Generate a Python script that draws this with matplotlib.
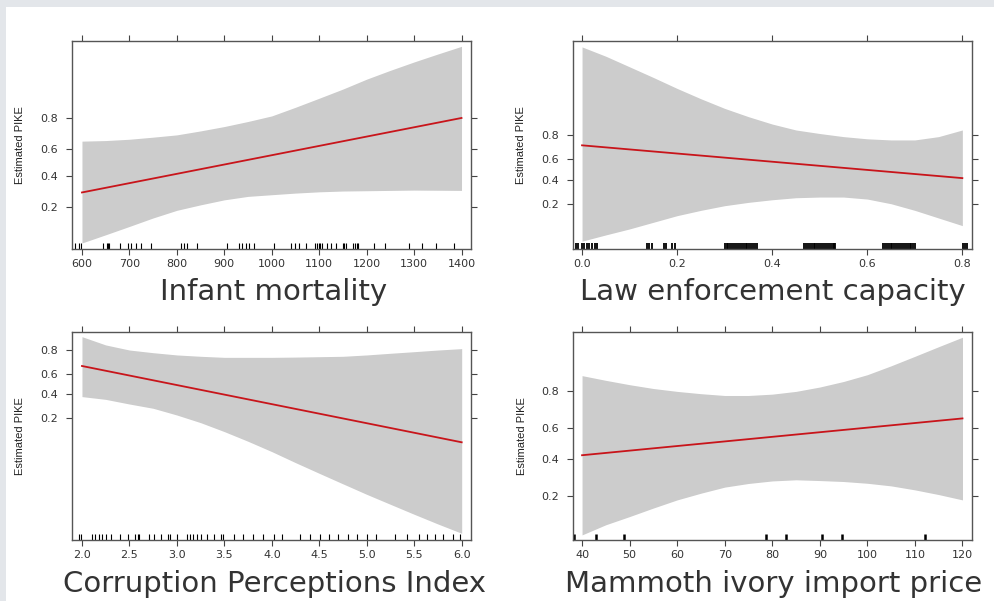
import numpy as np
import matplotlib
matplotlib.use("Agg")
import matplotlib.pyplot as plt
from matplotlib.patches import Rectangle
from matplotlib.ticker import FixedLocator, NullLocator

# ---- data (effect plots, logit y scale) ----
# Infant mortality
im_x = [600, 650, 700, 750, 800, 850, 900, 950, 1000, 1050, 1100, 1150,
        1200, 1250, 1300, 1350, 1400]
im_upper = [0.659, 0.663, 0.672, 0.686, 0.701, 0.726, 0.752, 0.780, 0.808, 0.846,
            0.879, 0.906, 0.929, 0.945, 0.957, 0.966, 0.973]
im_lower = [0.077, 0.097, 0.122, 0.153, 0.186, 0.213, 0.240, 0.260, 0.270, 0.280,
            0.288, 0.293, 0.295, 0.297, 0.299, 0.298, 0.297]
im_fit = [0.284, 0.798]
im_rug = [585.3, 593.0, 597.9, 643.4, 651.8, 654.6, 657.4, 680.6, 697.4, 703.7,
          714.2, 724.7, 745.0, 809.5, 815.1, 822.1, 843.1, 906.1, 932.0, 937.7,
          944.7, 952.4, 963.6, 1004.2, 1041.3, 1049.7, 1057.4, 1072.9, 1091.8,
          1095.3, 1099.5, 1102.3, 1106.5, 1116.3, 1124.7, 1134.5, 1149.9, 1152.7,
          1156.9, 1170.9, 1175.1, 1179.3, 1182.8, 1216.5, 1238.9, 1289.3, 1315.9,
          1346.1, 1384.6]

# Law enforcement capacity
le_x = [0.0, 0.05, 0.1, 0.15, 0.2, 0.25, 0.3, 0.35, 0.4, 0.45, 0.5, 0.55,
        0.6, 0.65, 0.7, 0.75, 0.8]
le_upper = [0.9929, 0.9897, 0.9843, 0.9761, 0.9633, 0.9454, 0.9215, 0.8937, 0.862,
            0.831, 0.810, 0.790, 0.775, 0.767, 0.767, 0.790, 0.831]
le_lower = [0.0527, 0.0668, 0.0835, 0.1064, 0.1346, 0.1615, 0.1886, 0.210, 0.228,
            0.2427, 0.2477, 0.2477, 0.233, 0.201, 0.1615, 0.124, 0.0943]
le_fit = [0.726, 0.414]
le_rug = [-0.013, -0.008, 0.0, 0.004, 0.010, 0.015, 0.021, 0.027, 0.032,
          0.136, 0.140, 0.148, 0.172, 0.176, 0.190, 0.196,
          0.300, 0.304, 0.308, 0.312, 0.316, 0.320, 0.324, 0.328, 0.332,
          0.336, 0.340, 0.344, 0.348, 0.352, 0.356, 0.360, 0.364, 0.367,
          0.467, 0.471, 0.475, 0.479, 0.483, 0.487, 0.491, 0.495, 0.499,
          0.503, 0.507, 0.511, 0.515, 0.519, 0.523, 0.527, 0.531, 0.533,
          0.633, 0.637, 0.641, 0.645, 0.649, 0.653, 0.657, 0.661, 0.665,
          0.669, 0.673, 0.677, 0.681, 0.685, 0.689, 0.693, 0.697, 0.700,
          0.802, 0.806, 0.810]

# Corruption Perceptions Index
cp_x = [2.0, 2.25, 2.5, 2.75, 3.0, 3.25, 3.5, 3.75, 4.0, 4.25, 4.5, 4.75,
        5.0, 5.25, 5.5, 5.75, 6.0]
cp_upper = [0.875, 0.833, 0.802, 0.784, 0.768, 0.758, 0.750, 0.750, 0.750, 0.752,
            0.755, 0.758, 0.768, 0.780, 0.791, 0.802, 0.811]
cp_lower = [0.375, 0.349, 0.307, 0.271, 0.220, 0.171, 0.125, 0.0876, 0.0592, 0.0385,
            0.0252, 0.0165, 0.0108, 0.0072, 0.0048, 0.00323, 0.00221]
cp_fit = [0.678, 0.0845]
cp_rug = [1.972, 1.989, 2.105, 2.137, 2.175, 2.214, 2.252, 2.305, 2.403, 2.487,
          2.557, 2.585, 2.599, 2.708, 2.760, 2.830, 2.907, 2.928, 2.998, 3.110,
          3.138, 3.173, 3.208, 3.250, 3.320, 3.390, 3.461, 3.489, 3.601, 3.699,
          3.804, 3.909, 4.028, 4.109, 4.301, 4.399, 4.511, 4.602, 4.694, 4.799,
          4.897, 5.002, 5.100, 5.299, 5.422, 5.545, 5.632, 5.720, 5.807, 5.905,
          5.982]

# Mammoth ivory import price
mi_x = [40, 45, 50, 55, 60, 65, 70, 75, 80, 85, 90, 95, 100, 105, 110, 115, 120]
mi_upper = [0.857, 0.841, 0.825, 0.810, 0.798, 0.788, 0.780, 0.780, 0.786, 0.798,
            0.816, 0.837, 0.860, 0.886, 0.909, 0.928, 0.943]
mi_lower = [0.0815, 0.104, 0.126, 0.153, 0.183, 0.211, 0.239, 0.257, 0.270, 0.276,
            0.272, 0.267, 0.258, 0.245, 0.226, 0.205, 0.183]
mi_fit = [0.422, 0.659]
mi_rug = [38.3, 42.9, 48.8, 78.6, 82.8, 90.5, 94.6, 112.1]

panels = [
    dict(x=im_x, up=im_upper, lo=im_lower, fit=im_fit, rug=im_rug, rug_lw=0.8,
         xlim=(579, 1420), ylim=(0.0648, 0.977),
         xticks=[600, 700, 800, 900, 1000, 1100, 1200, 1300, 1400],
         xticklabels=["600", "700", "800", "900", "1000", "1100", "1200", "1300", "1400"],
         title="Infant mortality", box=(72, 41), lab=(274, 300), ylab=(20, 145)),
    dict(x=le_x, up=le_upper, lo=le_lower, fit=le_fit, rug=le_rug, rug_lw=1.3,
         xlim=(-0.019, 0.8203), ylim=(0.039, 0.9944),
         xticks=[0.0, 0.2, 0.4, 0.6, 0.8],
         xticklabels=["0.0", "0.2", "0.4", "0.6", "0.8"],
         title="Law enforcement capacity", box=(573, 41), lab=(773, 300), ylab=(521, 145)),
    dict(x=cp_x, up=cp_upper, lo=cp_lower, fit=cp_fit, rug=cp_rug, rug_lw=0.8,
         xlim=(1.895, 6.098), ylim=(0.00168, 0.8945),
         xticks=[2.0, 2.5, 3.0, 3.5, 4.0, 4.5, 5.0, 5.5, 6.0],
         xticklabels=["2.0", "2.5", "3.0", "3.5", "4.0", "4.5", "5.0", "5.5", "6.0"],
         title="Corruption Perceptions Index", box=(72, 332), lab=(275, 592), ylab=(20, 436)),
    dict(x=mi_x, up=mi_upper, lo=mi_lower, fit=mi_fit, rug=mi_rug, rug_lw=1.8,
         xlim=(38.1, 122.0), ylim=(0.072, 0.950),
         xticks=[40, 50, 60, 70, 80, 90, 100, 110, 120],
         xticklabels=["40", "50", "60", "70", "80", "90", "100", "110", "120"],
         title="Mammoth ivory import price", box=(573, 332), lab=(774, 592), ylab=(522, 436)),
]

W, H = 995, 601
fig = plt.figure(figsize=(W / 100, H / 100), dpi=100)
fig.patch.set_facecolor("#e3e6ea")
fig.patches.append(Rectangle((6 / W, 0), 1, 1 - 7 / H, transform=fig.transFigure,
                             facecolor="white", edgecolor="none", zorder=-5))

pw, ph = 399, 208
for p in panels:
    bx, by = p["box"]
    ax = fig.add_axes([bx / W, 1 - (by + ph) / H, pw / W, ph / H])
    ax.set_zorder(2)
    ax.set_yscale("logit")
    ax.fill_between(p["x"], p["lo"], p["up"], color="#cccccc", linewidth=0)
    ax.plot([p["x"][0], p["x"][-1]], p["fit"], color="#c8141a", lw=1.3)
    ax.vlines(p["rug"], 0, 0.03, transform=ax.get_xaxis_transform(),
              color="black", lw=p["rug_lw"])
    ax.set_xlim(*p["xlim"])
    ax.set_ylim(*p["ylim"])
    ax.xaxis.set_major_locator(FixedLocator(p["xticks"]))
    ax.set_xticklabels(p["xticklabels"])
    ax.yaxis.set_major_locator(FixedLocator([0.2, 0.4, 0.6, 0.8]))
    ax.set_yticklabels(["0.2", "0.4", "0.6", "0.8"])
    ax.yaxis.set_minor_locator(NullLocator())
    ax.xaxis.set_minor_locator(NullLocator())
    ax.tick_params(direction="out", length=4.3, width=0.8, color="#444444",
                   top=True, right=True, labeltop=False, labelright=False,
                   labelsize=8, labelcolor="#333333")
    ax.tick_params(axis="x", pad=3)
    ax.tick_params(axis="y", pad=6)
    for s in ax.spines.values():
        s.set_color("#555555")
        s.set_linewidth(1.0)
    fig.text(p["lab"][0] / W, 1 - p["lab"][1] / H, p["title"], ha="center",
             va="baseline", fontsize=21, color="#333333", family="DejaVu Sans")
    fig.text(p["ylab"][0] / W, 1 - p["ylab"][1] / H, "Estimated PIKE", rotation=90,
             ha="center", va="center", fontsize=8, color="#222222",
             family="Liberation Sans")

fig.savefig("out.png", dpi=100)
